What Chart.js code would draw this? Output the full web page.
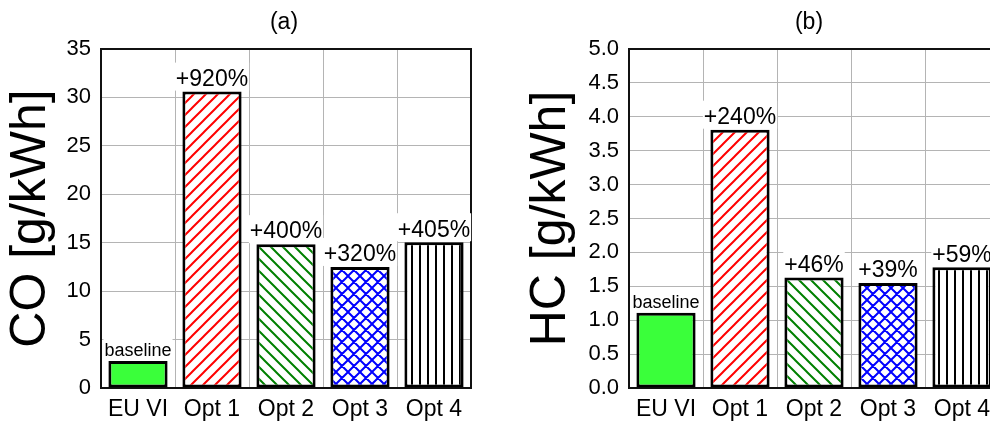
<!DOCTYPE html>
<html><head><meta charset="utf-8">
<script src="https://cdn.jsdelivr.net/npm/chart.js@4.4.1/dist/chart.umd.min.js"></script>
<style>
html,body{margin:0;padding:0;background:#fff;overflow:hidden;width:990px;height:427px;}
#w1{position:absolute;left:0;top:0;width:495px;height:427px;}
#w2{position:absolute;left:495px;top:0;width:530px;height:427px;}
canvas{display:block;}
</style></head><body>
<div id="w1"><canvas id="c1" width="495" height="427"></canvas></div>
<div id="w2"><canvas id="c2" width="530" height="427"></canvas></div>
<script>
// ---- data ----
const categories = ['EU VI', 'Opt 1', 'Opt 2', 'Opt 3', 'Opt 4'];
const coValues = [2.8, 30.6, 14.85, 12.5, 15.05];
const hcValues = [1.11, 3.81, 1.63, 1.55, 1.78];
const coLabels = ['baseline', '+920%', '+400%', '+320%', '+405%'];
const hcLabels = ['baseline', '+240%', '+46%', '+39%', '+59%'];
const coTicks = [0, 5, 10, 15, 20, 25, 30, 35];
const hcTicks = [0, 0.5, 1, 1.5, 2, 2.5, 3, 3.5, 4, 4.5, 5];
const coTitle = 'CO [g/kWh]';
const hcTitle = 'HC [g/kWh]';
const panelTitles = ['(a)', '(b)'];

// ---- styles ----
const FONT = '"Liberation Sans", Arial, Helvetica, sans-serif';
Chart.defaults.font.family = FONT;
Chart.defaults.color = '#000';

function makePattern(kind, color) {
  const c = document.createElement('canvas');
  const p = kind === 'vert' ? 8 : 12;
  c.width = p; c.height = p;
  const g = c.getContext('2d');
  g.fillStyle = '#fff'; g.fillRect(0, 0, p, p);
  g.strokeStyle = color; g.lineWidth = 2;
  g.beginPath();
  if (kind === 'vert') {
    g.moveTo(p / 2, -1); g.lineTo(p / 2, p + 1);
  }
  if (kind === 'fwd' || kind === 'cross') {
    for (const cc of [0, p, 2 * p]) { g.moveTo(-1, cc + 1); g.lineTo(p + 1, cc - p - 1); }
  }
  if (kind === 'back' || kind === 'cross') {
    for (const cc of [-p, 0, p]) { g.moveTo(-1, -1 - cc); g.lineTo(p + 1, p + 1 - cc); }
  }
  g.stroke();
  return g.createPattern(c, 'repeat');
}
function fills(ctx) {
  return ['#3aff3a', makePattern('fwd', '#ff0000'), makePattern('back', '#008000'),
          makePattern('cross', '#0000ff'), makePattern('vert', '#000000')];
}

const decor = {
  id: 'decor',
  afterDatasetsDraw(chart, args, opts) {
    const { ctx, chartArea: a } = chart;
    ctx.save();
    ctx.strokeStyle = '#111'; ctx.lineWidth = 2;
    ctx.beginPath();
    ctx.moveTo(a.left, a.top); ctx.lineTo(a.right, a.top); ctx.lineTo(a.right, a.bottom);
    ctx.stroke();
    const meta = chart.getDatasetMeta(0);
    meta.data.forEach((el, i) => {
      const txt = opts.labels[i];
      const small = i === 0;
      ctx.font = (small ? '18px ' : '23px ') + FONT;
      const w = ctx.measureText(txt).width;
      const h = small ? 21 : 27;
      ctx.fillStyle = '#fff';
      ctx.fillRect(el.x - w / 2 - 1, el.y - h - 2, w + 2, h + 1);
      ctx.fillStyle = '#000'; ctx.textAlign = 'center'; ctx.textBaseline = 'alphabetic';
      ctx.fillText(txt, el.x, el.y - (small ? 5 : 5.7));
    });
    ctx.font = '23px ' + FONT;
    ctx.fillStyle = '#000'; ctx.textAlign = 'center'; ctx.textBaseline = 'alphabetic';
    ctx.fillText(opts.title, (a.left + a.right) / 2 + opts.titleDx, 29);
    ctx.restore();
  }
};

function build(id, values, labels, ticks, yTitle, pTitle, yWidth, padRight, titlePad, titleDx, fmt) {
  const ctx = document.getElementById(id).getContext('2d');
  return new Chart(ctx, {
    type: 'bar',
    data: {
      labels: categories,
      datasets: [{
        data: values,
        backgroundColor: fills(ctx),
        borderColor: '#000',
        borderWidth: 3,
        borderSkipped: false,
        categoryPercentage: 1.0,
        barPercentage: 0.8
      }]
    },
    options: {
      responsive: false,
      animation: false,
      devicePixelRatio: 1,
      layout: { padding: { left: 0, right: padRight, top: 49, bottom: 0 } },
      plugins: {
        legend: { display: false },
        tooltip: { enabled: false },
        decor: { labels: labels, title: pTitle, titleDx: titleDx }
      },
      scales: {
        x: {
          grid: { color: '#b4b4b4', lineWidth: 1, drawTicks: false, offset: true },
          border: { display: true, color: '#111', width: 2 },
          ticks: { font: { size: 23 }, color: '#000', padding: 8, maxRotation: 0, autoSkip: false },
          afterFit: ax => { ax.height = 39; }
        },
        y: {
          min: ticks[0], max: ticks[ticks.length - 1],
          grid: { color: '#b4b4b4', lineWidth: 1, drawTicks: false },
          border: { display: true, color: '#111', width: 2 },
          ticks: { font: { size: 22 }, color: '#000', padding: 10, callback: v => fmt(v) },
          afterBuildTicks: ax => { ax.ticks = ticks.map(v => ({ value: v })); },
          title: { display: true, text: yTitle, font: { size: 50 }, color: '#000', padding: { top: titlePad, bottom: 0 } },
          afterFit: ax => { ax.width = yWidth; }
        }
      }
    },
    plugins: [decor]
  });
}

build('c1', coValues, coLabels, coTicks, coTitle, panelTitles[0], 101, 24, 1, -2, v => String(v));
build('c2', hcValues, hcLabels, hcTicks, hcTitle, panelTitles[1], 134, 26, 26.5, -5, v => v.toFixed(1));
</script>
</body></html>
